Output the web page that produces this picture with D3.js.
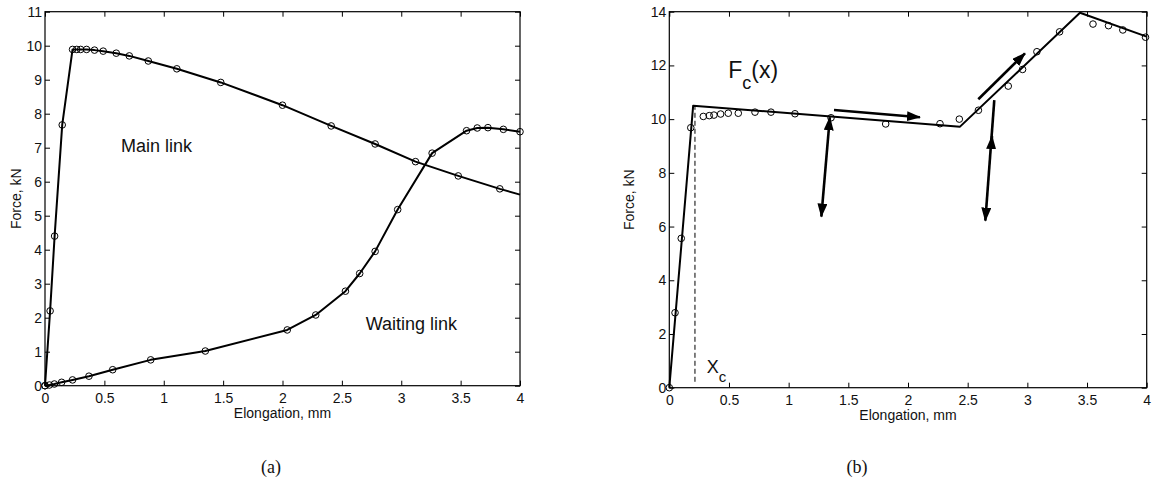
<!DOCTYPE html>
<html>
<head>
<meta charset="utf-8">
<script src="https://cdn.jsdelivr.net/npm/d3@7"></script>
<style>
body { margin: 0; background: #fff; }
svg text { font-family: "Liberation Sans", Arial, Helvetica, sans-serif; fill: #111; }
</style>
</head>
<body>
<div id="chart"></div>
<script>
// (a) main link and waiting link, measured points
var mainX = [0, 0.043, 0.081, 0.145, 0.232, 0.267, 0.30, 0.35, 0.417, 0.49, 0.60, 0.71, 0.87, 1.11, 1.48, 2.0, 2.41, 2.78, 3.12, 3.48, 3.83];
var mainF = [0, 2.2, 4.4, 7.67, 9.89, 9.89, 9.89, 9.89, 9.87, 9.84, 9.78, 9.70, 9.55, 9.32, 8.92, 8.25, 7.64, 7.11, 6.59, 6.17, 5.79];
var mainEnd = [4.0, 5.62];   // line continues to the axis edge, no marker
var waitX = [0, 0.037, 0.079, 0.14, 0.232, 0.37, 0.57, 0.89, 1.35, 2.04, 2.28, 2.53, 2.65, 2.78, 2.97, 3.26, 3.55, 3.64, 3.73, 3.86, 4.0];
var waitF = [0, 0.02, 0.05, 0.10, 0.17, 0.28, 0.47, 0.76, 1.02, 1.64, 2.08, 2.78, 3.30, 3.95, 5.18, 6.84, 7.50, 7.58, 7.59, 7.54, 7.47];

// (b) test points and piecewise fit F_c(x)
var testX = [0, 0.048, 0.10, 0.18, 0.285, 0.335, 0.374, 0.43, 0.494, 0.578, 0.718, 0.852, 1.053, 1.355, 1.813, 2.268, 2.43, 2.59, 2.84, 2.96, 3.08, 3.27, 3.55, 3.68, 3.80, 3.99];
var testF = [0, 2.79, 5.56, 9.68, 10.10, 10.13, 10.15, 10.19, 10.22, 10.22, 10.26, 10.26, 10.20, 10.05, 9.82, 9.83, 10.00, 10.33, 11.23, 11.85, 12.51, 13.25, 13.54, 13.48, 13.32, 13.05];
var fitX = [0, 0.20, 2.436, 3.441, 4.0];
var fitF = [0, 10.50, 9.72, 13.96, 13.07];
var xcPos = 0.215;  // X_c

// arrows in data units: [x0, f0, x1, f1, heads]
var arrowSegs = [
  [1.38, 10.34, 2.10, 10.07, "end"],
  [1.345, 10.07, 1.274, 6.37, "both"],
  [2.589, 10.74, 2.98, 12.45, "end"],
  [2.723, 10.71, 2.648, 6.22, "end"],
  [2.698, 9.0, 2.704, 9.37, "end"]
];

var xTicks = [0, 0.5, 1, 1.5, 2, 2.5, 3, 3.5, 4];
var yTicksA = d3.range(0, 12, 1);
var yTicksB = d3.range(0, 15, 2);

var W = 1153, H = 496;

var svg = d3.select("#chart").append("svg")
    .attr("width", W)
    .attr("height", H)
    .style("background", "#fff");

svg.append("defs").append("marker")
    .attr("id", "ah")
    .attr("viewBox", "0 0 14 10")
    .attr("refX", 13)
    .attr("refY", 5)
    .attr("markerWidth", 14)
    .attr("markerHeight", 10)
    .attr("markerUnits", "userSpaceOnUse")
    .attr("orient", "auto-start-reverse")
  .append("path")
    .attr("d", "M0,0L14,5L0,10Z")
    .attr("fill", "#000");

function drawFrame(box, yMax, yTicks) {
  var x = d3.scaleLinear().domain([0, 4]).range([box.left, box.right]);
  var y = d3.scaleLinear().domain([0, yMax]).range([box.bottom, box.top]);

  function style(g) {
    g.select(".domain").remove();
    g.attr("font-size", null).attr("font-family", null);
    g.selectAll("line").attr("stroke", "#000");
    g.selectAll("text").attr("font-size", "14px").attr("fill", "#111");
  }

  svg.append("g").attr("transform", "translate(0," + box.bottom + ")")
    .call(d3.axisBottom(x).tickValues(xTicks).tickFormat(d3.format("~g"))
      .tickSizeInner(-5).tickSizeOuter(0).tickPadding(7))
    .call(style);
  svg.append("g").attr("transform", "translate(0," + box.top + ")")
    .call(d3.axisTop(x).tickValues(xTicks).tickFormat("").tickSizeInner(-5).tickSizeOuter(0))
    .call(style);
  svg.append("g").attr("transform", "translate(" + box.left + ",0)")
    .call(d3.axisLeft(y).tickValues(yTicks).tickFormat(d3.format("~g"))
      .tickSizeInner(-5).tickSizeOuter(0).tickPadding(3))
    .call(style);
  svg.append("g").attr("transform", "translate(" + box.right + ",0)")
    .call(d3.axisRight(y).tickValues(yTicks).tickFormat("").tickSizeInner(-5).tickSizeOuter(0))
    .call(style);

  svg.append("rect")
    .attr("x", box.left).attr("y", box.top)
    .attr("width", box.right - box.left).attr("height", box.bottom - box.top)
    .attr("fill", "none").attr("stroke", "#000").attr("stroke-width", 1.2);

  svg.append("text")
    .attr("x", (box.left + box.right) / 2).attr("y", box.bottom + 32)
    .attr("text-anchor", "middle").attr("font-size", "14px")
    .text("Elongation, mm");
  svg.append("text")
    .attr("transform", "translate(" + box.ylab + "," + (box.top + box.bottom) / 2 + ") rotate(-90)")
    .attr("text-anchor", "middle").attr("font-size", "14px")
    .text("Force, kN");

  return {x: x, y: y};
}

function drawSeries(s, xs, fs, width) {
  var pts = xs.map(function(v, i) { return [v, fs[i]]; });
  svg.append("path")
    .datum(pts)
    .attr("fill", "none")
    .attr("stroke", "#000")
    .attr("stroke-width", width)
    .attr("stroke-linejoin", "round")
    .attr("d", d3.line().x(function(d) { return s.x(d[0]); }).y(function(d) { return s.y(d[1]); }));
}

function drawMarkers(s, xs, fs) {
  svg.append("g").selectAll("circle")
    .data(xs.map(function(v, i) { return [v, fs[i]]; }))
    .enter().append("circle")
      .attr("cx", function(d) { return s.x(d[0]); })
      .attr("cy", function(d) { return s.y(d[1]); })
      .attr("r", 3.3)
      .attr("fill", "none")
      .attr("stroke", "#000")
      .attr("stroke-width", 1);
}

// ---- panel (a)
var sa = drawFrame({left: 45, right: 520, top: 11.7, bottom: 385.7, ylab: 21}, 11, yTicksA);
drawSeries(sa, mainX.concat([mainEnd[0]]), mainF.concat([mainEnd[1]]), 2);
drawSeries(sa, waitX, waitF, 2);
drawMarkers(sa, mainX, mainF);
drawMarkers(sa, waitX, waitF);

svg.append("text").attr("x", sa.x(0.64)).attr("y", sa.y(6.88))
  .attr("font-size", "18px").text("Main link");
svg.append("text").attr("x", sa.x(2.70)).attr("y", sa.y(1.64))
  .attr("font-size", "18px").text("Waiting link");

// ---- panel (b)
var sb = drawFrame({left: 669.3, right: 1146.7, top: 11.7, bottom: 387.7, ylab: 634}, 14, yTicksB);
drawSeries(sb, fitX, fitF, 2);
drawMarkers(sb, testX, testF);

svg.append("line")
  .attr("x1", sb.x(xcPos)).attr("x2", sb.x(xcPos))
  .attr("y1", sb.y(0.22)).attr("y2", sb.y(10.45))
  .attr("stroke", "#000").attr("stroke-width", 1)
  .attr("stroke-dasharray", "5,3");

arrowSegs.forEach(function(a) {
  var p = svg.append("line")
    .attr("x1", sb.x(a[0])).attr("y1", sb.y(a[1]))
    .attr("x2", sb.x(a[2])).attr("y2", sb.y(a[3]))
    .attr("stroke", "#000").attr("stroke-width", 2.6)
    .attr("marker-end", "url(#ah)");
  if (a[4] == "both") p.attr("marker-start", "url(#ah)");
});

var fc = svg.append("text").attr("x", sb.x(0.494)).attr("y", sb.y(11.52)).attr("font-size", "23px");
fc.append("tspan").text("F");
fc.append("tspan").attr("dy", 11).attr("font-size", "18px").text("c");
fc.append("tspan").attr("dy", -11).text("(x)");

var xc = svg.append("text").attr("x", sb.x(0.313)).attr("y", sb.y(0.56)).attr("font-size", "18px");
xc.append("tspan").text("X");
xc.append("tspan").attr("dy", 9).attr("font-size", "15px").text("c");

// captions
svg.append("text").attr("x", 271).attr("y", 473).attr("text-anchor", "middle")
  .style("font-family", "'Liberation Serif', 'Times New Roman', serif").attr("font-size", "18px").text("(a)");
svg.append("text").attr("x", 857).attr("y", 473).attr("text-anchor", "middle")
  .style("font-family", "'Liberation Serif', 'Times New Roman', serif").attr("font-size", "18px").text("(b)");
</script>
</body>
</html>
